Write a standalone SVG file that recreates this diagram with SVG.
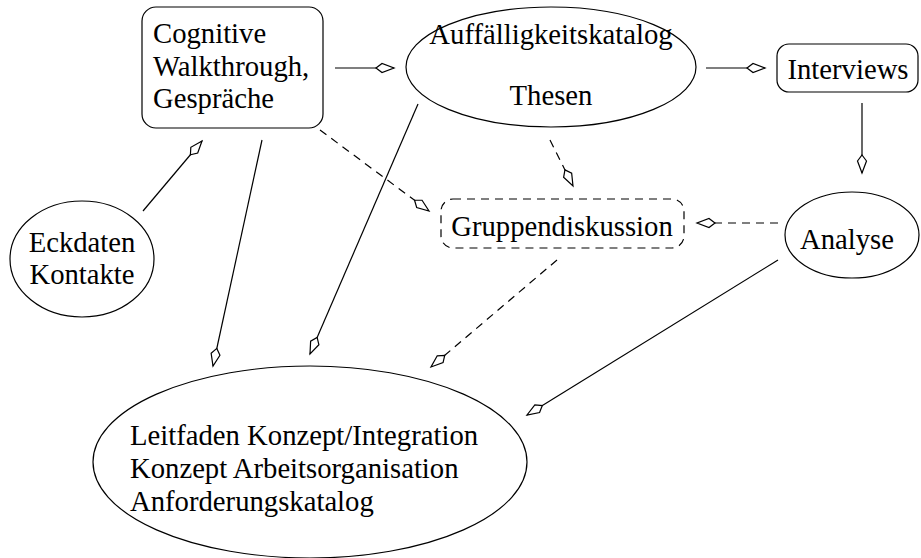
<svg xmlns="http://www.w3.org/2000/svg" width="921" height="558" viewBox="0 0 921 558">
<style>
.s{fill:none;stroke:#000;stroke-width:1.2}
.d{stroke-dasharray:8 6}
.t{font-family:"Liberation Serif","Times New Roman",serif;font-size:28.7px;fill:#000}
.c{text-anchor:middle}
.e{marker-end:url(#kite)}
</style>
<defs>
<marker id="kite" viewBox="-1 -6 21 12" refX="18" refY="0" markerWidth="21" markerHeight="12" markerUnits="userSpaceOnUse" orient="auto">
<path d="M0,0 L6,-4.5 L18,0 L6,4.5 Z" fill="#fff" stroke="#000" stroke-width="1.2" stroke-dasharray="none"/>
</marker>
</defs>
<rect width="921" height="558" fill="#fff"/>
<g id="connectors">
<line class="s e" x1="335" y1="68" x2="394" y2="68"/>
<line class="s e" x1="706" y1="68" x2="765" y2="68"/>
<line class="s e" x1="862" y1="103" x2="862" y2="173"/>
<line class="s e" x1="143" y1="211" x2="202" y2="141"/>
<line class="s e" x1="262" y1="140" x2="213" y2="366"/>
<line class="s e" x1="418" y1="104" x2="310" y2="354"/>
<line class="s d e" x1="320" y1="130" x2="429" y2="211"/>
<line class="s d e" x1="550" y1="140" x2="573" y2="186"/>
<line class="s d e" x1="778" y1="223" x2="697" y2="223"/>
<line class="s d e" x1="557" y1="260" x2="431" y2="367"/>
<line class="s e" x1="778" y1="260" x2="527" y2="415"/>
</g>
<g id="cognitive">
<rect class="s" x="142" y="7" width="181" height="121" rx="14"/>
<text class="t" x="153" y="43">Cognitive</text>
<text class="t" x="153" y="76">Walkthrough,</text>
<text class="t" x="153" y="108">Gespräche</text>
</g>
<g id="auffaelligkeitskatalog">
<ellipse class="s" cx="551" cy="67" rx="145" ry="60"/>
<text class="t c" x="551" y="44">Auffälligkeitskatalog</text>
<text class="t c" x="551" y="105">Thesen</text>
</g>
<g id="interviews">
<rect class="s" x="777" y="44" width="141" height="48" rx="12"/>
<text class="t c" x="848" y="79">Interviews</text>
</g>
<g id="eckdaten">
<ellipse class="s" cx="82" cy="259" rx="72" ry="58"/>
<text class="t c" x="82" y="252">Eckdaten</text>
<text class="t c" x="82" y="284">Kontakte</text>
</g>
<g id="gruppendiskussion">
<rect class="s d" x="441" y="199" width="243" height="49" rx="12"/>
<text class="t c" x="562" y="236">Gruppendiskussion</text>
</g>
<g id="analyse">
<ellipse class="s" cx="852" cy="235" rx="67" ry="43"/>
<text class="t c" x="847" y="249">Analyse</text>
</g>
<g id="leitfaden">
<ellipse class="s" cx="310" cy="462" rx="217" ry="96"/>
<text class="t" x="130" y="445">Leitfaden Konzept/Integration</text>
<text class="t" x="130" y="478">Konzept Arbeitsorganisation</text>
<text class="t" x="130" y="511">Anforderungskatalog</text>
</g>
</svg>
